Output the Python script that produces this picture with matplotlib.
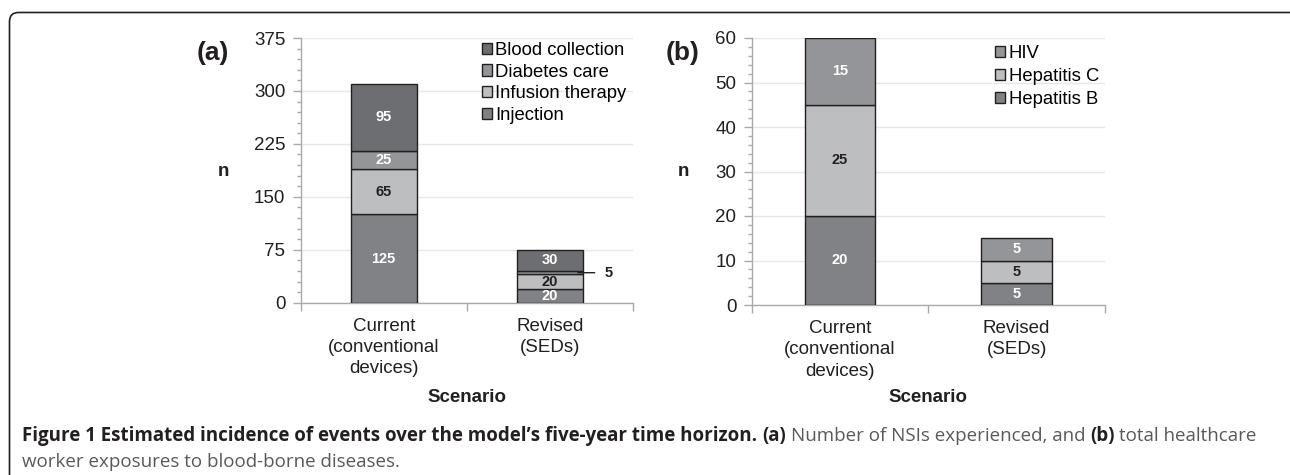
import matplotlib.pyplot as plt
import matplotlib.patches as mpatches
from matplotlib.ticker import MultipleLocator
import numpy as np

plt.rcParams['font.family'] = ['Liberation Sans', 'DejaVu Sans']

# data
scenarios = ["Current\n(conventional\ndevices)", "Revised\n(SEDs)"]

nsi_types = ["Injection", "Infusion therapy", "Diabetes care", "Blood collection"]
injection = [125, 20]
infusion = [65, 20]
diabetes = [25, 5]
blood_collection = [95, 30]

diseases = ["Hepatitis B", "Hepatitis C", "HIV"]
hep_b = [20, 5]
hep_c = [25, 5]
hiv = [15, 5]

W, H = 1290, 475
fig = plt.figure(figsize=(W / 100, H / 100), dpi=100)

EDGE = '#231f20'
AXC = '#a7a9ac'
DARK = '#6d6e71'
MID = '#939598'
LIGHT = '#bcbec0'
MIDDARK = '#808285'


def px_axes(x0, x1, ytop, ybot):
    return fig.add_axes([x0 / W, 1 - ybot / H, (x1 - x0) / W, (ybot - ytop) / H])


def stacked(ax, series, names, colors, txtcolors, min_inside=0):
    x = np.arange(len(scenarios))
    bottom = np.zeros(len(scenarios))
    for vals, name, col, tc in zip(series, names, colors, txtcolors):
        vals = np.array(vals, dtype=float)
        ax.bar(x, vals, 0.4, bottom=bottom, color=col, edgecolor=EDGE,
               linewidth=1, label=name, zorder=3)
        for xi, b, v in zip(x, bottom, vals):
            if v >= min_inside:
                ax.text(xi, b + v / 2, '%d' % v, ha='center', va='center',
                        fontsize=10.5, fontweight='bold', color=tc, zorder=4)
            else:
                # small segment: label outside with a leader line
                ax.annotate('%d' % v, xy=(xi + 0.17, b + v / 2), xytext=(22, 0),
                            textcoords='offset points', ha='center', va='center',
                            fontsize=10.5, fontweight='bold', color=EDGE,
                            arrowprops=dict(arrowstyle='-', color=EDGE, lw=1,
                                            shrinkA=5, shrinkB=0))
        bottom += vals


def style(ax, ymax, major, minor):
    ax.set_xlim(-0.5, 1.5)
    ax.set_ylim(0, ymax)
    ax.yaxis.set_major_locator(MultipleLocator(major))
    ax.yaxis.set_minor_locator(MultipleLocator(minor))
    ax.set_xticks([-0.5, 0.5, 1.5])
    ax.set_xticklabels([])
    ax.set_xticks(np.arange(len(scenarios)), minor=True)
    ax.set_xticklabels(scenarios, minor=True, fontsize=13.5, color=EDGE, linespacing=1.32)
    ax.tick_params(axis='x', which='major', length=6, color=AXC, width=1)
    ax.tick_params(axis='x', which='minor', length=0, pad=11)
    ax.tick_params(axis='y', which='major', length=6, color=AXC, width=1,
                   labelsize=13.5, labelcolor=EDGE, pad=5)
    ax.tick_params(axis='y', which='minor', length=3, color=AXC, width=1)
    for s in ['top', 'right']:
        ax.spines[s].set_visible(False)
    for s in ['left', 'bottom']:
        ax.spines[s].set_color(AXC)
        ax.spines[s].set_linewidth(1)
    ax.grid(axis='y', color='#e6e7e8', linewidth=1, zorder=0)
    ax.set_axisbelow(True)


def add_legend(ax, xanchor, yanchor, spacing):
    h, l = ax.get_legend_handles_labels()
    ax.legend(h[::-1], l[::-1], loc='upper left', bbox_to_anchor=(xanchor, yanchor),
              frameon=False, fontsize=13.3, handlelength=0.55, handleheight=0.55,
              handletextpad=0.2, labelspacing=spacing, borderpad=0, borderaxespad=0)


# panel (a)
ax1 = px_axes(300.7, 632.7, 38, 302.7)
stacked(ax1, [injection, infusion, diabetes, blood_collection], nsi_types,
        [MIDDARK, LIGHT, MID, DARK], ['white', EDGE, 'white', 'white'], min_inside=10)
style(ax1, 375, 75, 15)
add_legend(ax1, 0.545, 0.985, 0.25)

# panel (b)
ax2 = px_axes(751.7, 1105, 38, 305)
stacked(ax2, [hep_b, hep_c, hiv], diseases,
        [MIDDARK, LIGHT, MID], ['white', EDGE, 'white'])
style(ax2, 60, 10, 2)
add_legend(ax2, 0.689, 0.975, 0.33)

# labels in pixel positions
for txt, xp, yp, fs in [('(a)', 213, 53, 19), ('(b)', 683, 53, 19),
                        ('n', 223, 171, 13.5), ('n', 683, 171, 13.5),
                        ('Scenario', 466.7, 398, 13.5), ('Scenario', 928.3, 398, 13.5)]:
    fig.text(xp / W, 1 - yp / H, txt, ha='center', va='center', fontsize=fs,
             fontweight='bold', color=EDGE)

# frame around figure
frame = mpatches.FancyBboxPatch((9.5, -60), 1300, H - 12 + 60 - 0.5,
                                boxstyle='round,pad=0,rounding_size=9',
                                transform=None, facecolor='none',
                                edgecolor=EDGE, linewidth=1.2)
fig.add_artist(frame)

# caption, built piece by piece
renderer = fig.canvas.get_renderer()
CAPF = ['Open Sans', 'DejaVu Sans']
line1 = [("Figure 1 Estimated incidence of events over the model\u2019s five-year time horizon.", 'bold', EDGE),
         ("(a)", 'bold', EDGE),
         ("Number of NSIs experienced, and", 'normal', '#58595b'),
         ("(b)", 'bold', EDGE),
         ("total healthcare", 'normal', '#58595b')]
line2 = [("worker exposures to blood-borne diseases.", 'normal', '#58595b')]


def text_width(s, size, weight):
    t = fig.text(0, 0, s, fontsize=size, fontweight=weight, family=CAPF)
    w = t.get_window_extent(renderer).width
    t.remove()
    return w


def line_width(pieces, size):
    sp = text_width('a a', size, 'normal') - text_width('aa', size, 'normal')
    return sum(text_width(p[0], size, p[1]) for p in pieces) + sp * (len(pieces) - 1)


def draw_line(pieces, x0, ybase, size):
    sp = text_width('a a', size, 'normal') - text_width('aa', size, 'normal')
    x = x0
    for s, wgt, col in pieces:
        t = fig.text(x / W, 1 - ybase / H, s, fontsize=size, fontweight=wgt,
                     color=col, family=CAPF, va='baseline', ha='left')
        x += t.get_window_extent(renderer).width + sp


cap_size = 12 * (1255 - 22) / line_width(line1, 12)
draw_line(line1, 22, 441, cap_size)
draw_line(line2, 22, 467, cap_size)

fig.savefig('out.png', dpi=100)
